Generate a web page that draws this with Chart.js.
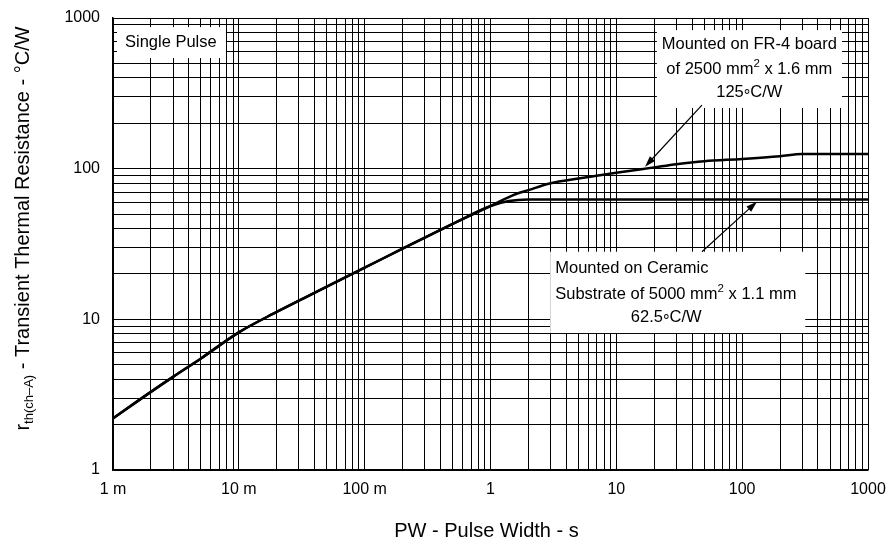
<!DOCTYPE html>
<html>
<head>
<meta charset="utf-8">
<script src="https://cdn.jsdelivr.net/npm/chart.js@4/dist/chart.umd.min.js"></script>
<style>
  html, body { margin: 0; padding: 0; background: #fff; }
  canvas { display: block; }
</style>
</head>
<body>
<canvas id="chart" width="892" height="541"></canvas>
<script>
// Transient thermal resistance vs. pulse width (single pulse)
// Shared part of the curve, pulse width in s, r_th in °C/W
const commonPw  = [0.001, 0.002, 0.003, 0.005, 0.01, 0.02, 0.03, 0.05, 0.1, 0.2, 0.5, 1];
const commonRth = [2.2, 3.3, 4.15, 5.5, 8.2, 11.2, 13.3, 16.5, 22, 29.5, 43, 56.5];

// FR-4 board branch (settles at 125 °C/W)
const fr4Pw  = [1.5, 2, 3, 5, 10, 20, 30, 50, 100, 200, 300, 1000];
const fr4Rth = [66.5, 72, 80, 86, 94, 102, 107, 112, 116, 121, 125, 125];

// Ceramic substrate branch (settles at 62.5 °C/W)
const ceramicPw  = [1.4, 2, 1000];
const ceramicRth = [61, 62.5, 62.5];

// Axis decades and their labels
const xDecades = [0.001, 0.01, 0.1, 1, 10, 100, 1000];
const xDecadeLabels = ['1 m', '10 m', '100 m', '1', '10', '100', '1000'];
const yDecades = [1, 10, 100, 1000];
const yDecadeLabels = ['1', '10', '100', '1000'];

const FONT = "'Liberation Sans', Arial, Helvetica, sans-serif";
const font = (size) => size + 'px ' + FONT;

// grid lines at 1..9 x each decade
function gridValues(decades) {
  const v = [];
  for (let i = 0; i < decades.length - 1; i++) {
    for (let m = 1; m <= 9; m++) v.push(+(decades[i] * m).toPrecision(6));
  }
  v.push(decades[decades.length - 1]);
  return v;
}
function labelFor(value, decades, labels) {
  const i = decades.findIndex(d => Math.abs(value / d - 1) < 1e-6);
  return i >= 0 ? labels[i] : '';
}
function toPoints(xs, ys) {
  return xs.map((x, i) => ({ x, y: ys[i] }));
}

// draw a line of text made of segments (for super/subscripts)
function drawRich(ctx, segs, x, y, align) {
  let w = 0;
  segs.forEach(s => { ctx.font = font(s.size); s.w = ctx.measureText(s.t).width; w += s.w; });
  let cx = align === 'center' ? x - w / 2 : x;
  ctx.textAlign = 'left';
  ctx.textBaseline = 'alphabetic';
  segs.forEach(s => { ctx.font = font(s.size); ctx.fillText(s.t, cx, y + (s.dy || 0)); cx += s.w; });
}

function arrow(ctx, x0, y0, x1, y1) {
  const a = Math.atan2(y1 - y0, x1 - x0);
  const len = 11, half = 3.5;
  ctx.beginPath();
  ctx.moveTo(x0, y0);
  ctx.lineTo(x1 - Math.cos(a) * len * 0.8, y1 - Math.sin(a) * len * 0.8);
  ctx.lineWidth = 1.2;
  ctx.strokeStyle = '#000';
  ctx.stroke();
  ctx.beginPath();
  ctx.moveTo(x1, y1);
  ctx.lineTo(x1 - Math.cos(a) * len + Math.sin(a) * half, y1 - Math.sin(a) * len - Math.cos(a) * half);
  ctx.lineTo(x1 - Math.cos(a) * len - Math.sin(a) * half, y1 - Math.sin(a) * len + Math.cos(a) * half);
  ctx.closePath();
  ctx.fillStyle = '#000';
  ctx.fill();
}

const TXT = 16.5;

// text boxes and arrows, placed in data coordinates
const notes = {
  id: 'notes',
  beforeDatasetsDraw(chart) {
    const { ctx, scales: { x, y } } = chart;
    const px = v => x.getPixelForValue(v);
    const py = v => y.getPixelForValue(v);
    const box = (x0, x1, y0, y1) => {
      ctx.fillStyle = '#fff';
      ctx.fillRect(px(x0), py(y0), px(x1) - px(x0), py(y1) - py(y0));
    };
    ctx.save();
    box(0.001076, 0.0079, 870, 542);
    box(21, 621, 831, 253);
    box(2.98, 317, 28.1, 8.11);
    ctx.restore();
  },
  afterDatasetsDraw(chart) {
    const { ctx, scales: { x, y } } = chart;
    const px = v => x.getPixelForValue(v);
    const py = v => y.getPixelForValue(v);
    ctx.save();
    ctx.fillStyle = '#000';
    drawRich(ctx, [{ t: 'Single Pulse', size: TXT }], px(0.001245), py(644), 'left');

    drawRich(ctx, [{ t: 'Mounted on FR-4 board', size: TXT }], px(114), py(619), 'center');
    drawRich(ctx, [{ t: 'of 2500 mm', size: TXT }, { t: '2', size: 11.5, dy: -7 }, { t: ' x 1.6 mm', size: TXT }], px(114), py(422), 'center');
    drawRich(ctx, [{ t: '125', size: TXT }, { t: '°', size: TXT, dy: 4 }, { t: 'C/W', size: TXT }], px(114), py(297), 'center');

    drawRich(ctx, [{ t: 'Mounted on Ceramic', size: TXT }], px(3.27), py(20.2), 'left');
    drawRich(ctx, [{ t: 'Substrate of 5000 mm', size: TXT }, { t: '2', size: 11.5, dy: -7 }, { t: ' x 1.1 mm', size: TXT }], px(3.27), py(13.6), 'left');
    drawRich(ctx, [{ t: '62.5', size: TXT }, { t: '°', size: TXT, dy: 4 }, { t: 'C/W', size: TXT }], px(24.9), py(9.64), 'center');

    arrow(ctx, px(47.9), py(264), px(16.9), py(103));
    arrow(ctx, px(47.9), py(28.1), px(131), py(60.4));

    // axis titles
    const area = chart.chartArea;
    ctx.fillStyle = '#000';
    drawRich(ctx, [{ t: 'PW - Pulse Width - s', size: 20 }], (area.left + area.right) / 2 - 4, 537, 'center');

    ctx.translate(29, (area.top + area.bottom) / 2 - 15.5);
    ctx.rotate(-Math.PI / 2);
    drawRich(ctx, [
      { t: 'r', size: 20 },
      { t: 'th(ch–A)', size: 13, dy: 4 },
      { t: ' - Transient Thermal Resistance - °C/W', size: 20 }
    ], 0, 0, 'center');
    ctx.restore();
  }
};

const lineStyle = {
  borderColor: '#000',
  borderWidth: 2.5,
  pointRadius: 0,
  fill: false,
  cubicInterpolationMode: 'monotone'
};

new Chart(document.getElementById('chart'), {
  type: 'line',
  data: {
    datasets: [
      Object.assign({ label: 'FR-4 board', data: toPoints(commonPw.concat(fr4Pw), commonRth.concat(fr4Rth)) }, lineStyle),
      Object.assign({ label: 'Ceramic substrate', data: toPoints(commonPw.concat(ceramicPw), commonRth.concat(ceramicRth)) }, lineStyle)
    ]
  },
  options: {
    responsive: false,
    animation: false,
    devicePixelRatio: 1,
    layout: { padding: { top: 18, right: 24, bottom: 0, left: 0 } },
    plugins: { legend: { display: false }, tooltip: { enabled: false } },
    scales: {
      x: {
        type: 'logarithmic',
        min: 0.001,
        max: 1000,
        afterBuildTicks: s => { s.ticks = gridValues(xDecades).map(v => ({ value: v })); },
        afterFit: s => { s.height = 71; s.paddingLeft = 0; s.paddingRight = 0; },
        grid: { color: '#000', lineWidth: 1, drawTicks: false },
        border: { color: '#000', width: 1.5 },
        ticks: {
          autoSkip: false,
          maxRotation: 0,
          padding: 10,
          color: '#000',
          font: { family: FONT, size: 16 },
          callback: v => labelFor(v, xDecades, xDecadeLabels)
        }
      },
      y: {
        type: 'logarithmic',
        min: 1,
        max: 1000,
        afterBuildTicks: s => { s.ticks = gridValues(yDecades).map(v => ({ value: v })); },
        afterFit: s => { s.width = 113; s.paddingTop = 0; s.paddingBottom = 0; },
        grid: { color: '#000', lineWidth: 1, drawTicks: false },
        border: { color: '#000', width: 1.5 },
        ticks: {
          autoSkip: false,
          padding: 13,
          color: '#000',
          font: { family: FONT, size: 16 },
          callback: v => labelFor(v, yDecades, yDecadeLabels)
        }
      }
    }
  },
  plugins: [notes]
});
</script>
</body>
</html>
